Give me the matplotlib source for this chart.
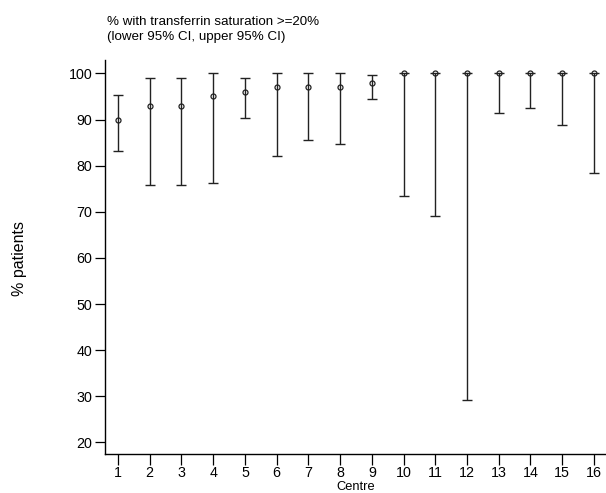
import matplotlib
matplotlib.use("Agg")
import matplotlib.pyplot as plt
import numpy as np

plt.rcParams['font.family'] = ['Liberation Sans', 'DejaVu Sans']

centres = list(range(1, 17))
pct = [90.0, 93.0, 93.0, 95.0, 96.0, 97.0, 97.0, 97.0, 98.0, 100, 100, 100, 100, 100, 100, 100]
lower = [83.2, 75.7, 75.7, 76.2, 90.3, 82.2, 85.5, 84.6, 94.5, 73.5, 69.1, 29.3, 91.4, 92.5, 88.8, 78.4]
upper = [95.4, 99.1, 99.1, 100, 98.9, 100, 100, 100, 99.7, 100, 100, 100, 100, 100, 100, 100]
yticks = [20, 30, 40, 50, 60, 70, 80, 90, 100]

W, H = 606, 493
fig = plt.figure(figsize=(W / 100, H / 100), dpi=100)
ax = fig.add_axes([105 / W, 1 - 454 / H, (606 - 105) / W, (454 - 60) / H])

x = np.array(centres)
p = np.array(pct)
lo = np.array(lower)
up = np.array(upper)
ax.errorbar(x, p, yerr=[p - lo, up - p], fmt='none', ecolor='#222222',
            elinewidth=1.0, capsize=3.8, capthick=1.0)
ax.plot(x, p, 'o', mfc='none', mec='#222222', ms=3.6, mew=0.9)

ax.set_xlim(0.59, 16.38)
ax.set_ylim(17.5, 102.9)
ax.set_xticks(centres)
ax.set_yticks(yticks)
for s in ['top', 'right']:
    ax.spines[s].set_visible(False)
for s in ['left', 'bottom']:
    ax.spines[s].set_linewidth(1.0)
ax.tick_params(axis='both', length=7, width=0.9, labelsize=10.3, pad=2)
ax.tick_params(axis='x', length=8, pad=0.5)

fig.text(20 / W, 1 - 258 / H, '% patients', rotation=90, ha='center', va='center', fontsize=11.5)
fig.text(356 / W, 0.5 / H, 'Centre', ha='center', va='bottom', fontsize=9.3)
fig.text(107 / W, 1 - 22 / H, '% with transferrin saturation >=20%', ha='left', va='center', fontsize=9.6)
fig.text(107 / W, 1 - 37 / H, '(lower 95% CI, upper 95% CI)', ha='left', va='center', fontsize=9.6)

fig.savefig('out.png', dpi=100)
